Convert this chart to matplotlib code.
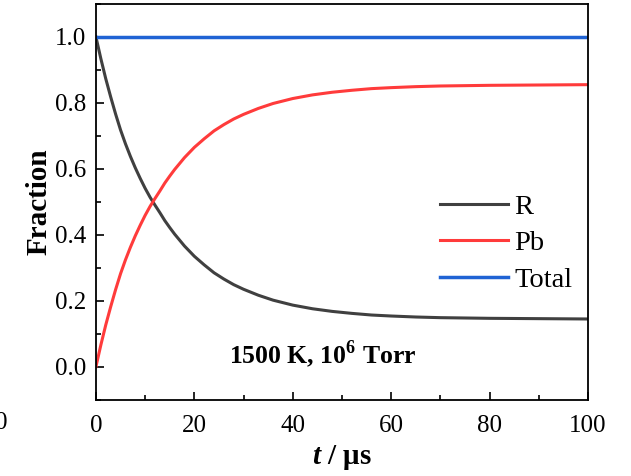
import matplotlib as mpl
mpl.use('Agg')
import matplotlib.pyplot as plt
from matplotlib.ticker import MultipleLocator

plt.rcParams['font.family'] = 'Liberation Serif'
plt.rcParams['mathtext.fontset'] = 'custom'
plt.rcParams['mathtext.rm'] = 'Liberation Serif'
plt.rcParams['mathtext.bf'] = 'Liberation Serif:bold'
plt.rcParams['mathtext.bfit'] = 'Liberation Serif:italic:bold'

# values
t = [0, 1, 2, 3, 4, 5, 6, 7, 8, 9, 10, 11, 12, 13, 14, 15, 16, 18, 20, 22,
     24, 26, 28, 30, 33, 36, 40, 44, 48, 52, 56, 60, 65, 70, 75, 80, 90, 100]
pb = [0, 0.066, 0.127, 0.182, 0.234, 0.282, 0.324, 0.362, 0.397, 0.429,
      0.459, 0.486, 0.510, 0.533, 0.557, 0.578, 0.598, 0.634, 0.665, 0.691,
      0.715, 0.734, 0.751, 0.765, 0.783, 0.798, 0.813, 0.824, 0.832, 0.838,
      0.843, 0.846, 0.849, 0.851, 0.852, 0.853, 0.854, 0.855]
r = [1.0, 0.934, 0.873, 0.818, 0.766, 0.718, 0.676, 0.638, 0.603, 0.571,
     0.541, 0.514, 0.490, 0.467, 0.443, 0.422, 0.402, 0.366, 0.335, 0.309,
     0.285, 0.266, 0.249, 0.235, 0.217, 0.202, 0.187, 0.176, 0.168, 0.162,
     0.157, 0.154, 0.151, 0.149, 0.148, 0.147, 0.146, 0.145]
t_total = [0, 100]
total = [1.0, 1.0]

fig = plt.figure(figsize=(6.31, 4.76), dpi=100)
ax = fig.add_axes([0.152, 0.160, 0.780, 0.832])

ax.plot(t, r, color='#404040', lw=2.2, label='R')
ax.plot(t, pb, color='#ff3b3b', lw=2.2, label='Pb')
ax.plot(t_total, total, color='#1f63d4', lw=2.5, label='Total')

ax.set_xlim(0, 100)
ax.set_ylim(-0.1, 1.1)
ax.xaxis.set_major_locator(MultipleLocator(20))
ax.xaxis.set_minor_locator(MultipleLocator(10))
ax.yaxis.set_major_locator(MultipleLocator(0.2))
ax.yaxis.set_minor_locator(MultipleLocator(0.1))
ax.yaxis.set_major_formatter(mpl.ticker.FormatStrFormatter('%.1f'))
ax.tick_params(which='both', direction='in', labelsize=18, width=1.2)
ax.tick_params(which='major', length=6, pad=7)
ax.tick_params(axis='x', which='major', pad=11)
ax.tick_params(which='minor', length=3.5)
for s in ax.spines.values():
    s.set_linewidth(1.3)

ax.set_xlabel(r'$\mathbfit{t}$ / μs', fontsize=21, fontweight='bold', labelpad=4)
ax.set_ylabel('Fraction', fontsize=21, fontweight='bold', labelpad=2)
ax.text(46, 0.04, r'1500 K, 10$^{\mathbf{6}}$ Torr', fontsize=18.5, fontweight='bold',
        ha='center', va='center')

ax.legend(loc='upper left', bbox_to_anchor=(0.699, 0.52), frameon=False,
          fontsize=20.5, handlelength=2.4, handletextpad=0.2, labelspacing=0.37,
          borderpad=0, borderaxespad=0)

fig.text(7 / 631, 1 - 423 / 476, '0', fontsize=18, ha='right', va='center')

fig.savefig('out.png', dpi=100)
